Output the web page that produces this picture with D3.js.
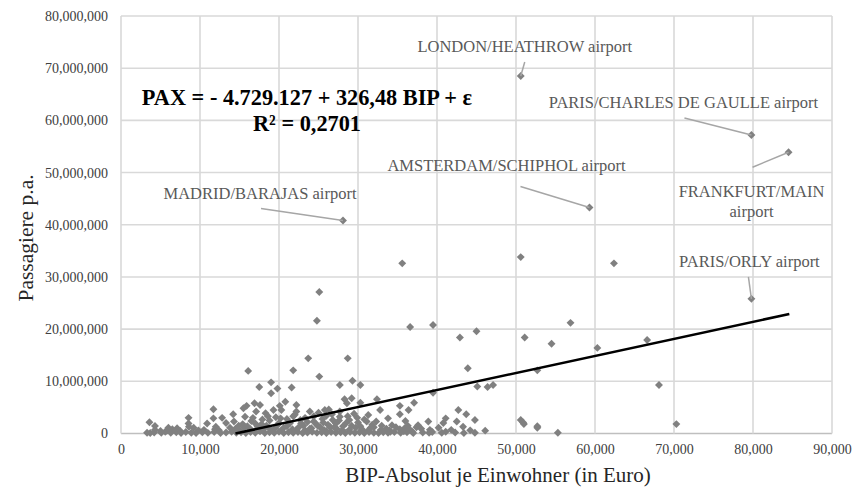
<!DOCTYPE html>
<html>
<head>
<meta charset="utf-8">
<script src="https://cdn.jsdelivr.net/npm/d3@7"></script>
<style>
  body { margin: 0; background: #fff; }
  text { font-family: "Liberation Serif", "Times New Roman", serif; }
</style>
</head>
<body>
<div id="chart"></div>
<script>
// BIP je Einwohner (Euro) vs. Passagiere p.a.
const xTicks = [0, 10000, 20000, 30000, 40000, 50000, 60000, 70000, 80000, 90000];
const yTicks = [0, 10000000, 20000000, 30000000, 40000000, 50000000, 60000000, 70000000, 80000000];

// named airports
const bigAirports = [
  [50600, 68500000],
  [79800, 57200000],
  [84500, 53900000],
  [59300, 43300000],
  [28100, 40800000],
  [79800, 25800000]
];

// scattered points above ~3M
const upperPoints = [
  [35600, 32600000], [50600, 33800000], [62400, 32600000], [25100, 27100000], [24800, 21600000],
  [36600, 20400000], [39500, 20800000], [42900, 18400000], [45000, 19600000], [56900, 21200000],
  [51100, 18400000], [54500, 17200000], [60300, 16400000], [66600, 17900000], [23700, 14400000],
  [28700, 14400000], [43900, 12500000], [52700, 12100000], [16100, 12000000], [21800, 12100000],
  [25100, 10900000], [29300, 10100000], [27700, 9300000], [30300, 9300000], [45100, 9000000],
  [46400, 8900000], [47100, 9300000], [68100, 9300000], [17500, 8900000], [19000, 9800000],
  [19800, 8600000], [19000, 7700000], [21600, 8800000], [39500, 7800000], [28300, 6550000],
  [28600, 5800000], [29200, 6750000], [16900, 5800000], [17600, 5450000], [17100, 4200000],
  [20100, 5300000], [20300, 4500000], [22200, 5450000], [22200, 4200000], [23900, 4200000],
  [25800, 4500000], [25000, 4000000], [27700, 3200000], [27700, 4200000], [15500, 4850000],
  [15700, 3200000], [30300, 5900000], [32400, 6550000], [32800, 4500000], [35300, 5300000],
  [35300, 3700000], [36400, 4500000], [37100, 5900000], [31300, 3550000], [11700, 4650000],
  [12800, 3000000], [8550, 3000000], [14200, 3700000], [15900, 5300000], [22000, 3600000],
  [18300, 3900000], [19300, 4500000], [20800, 6100000], [43700, 3700000], [42700, 4500000],
  [26300, 4600000], [29500, 3800000], [19600, 3100000], [23300, 3000000], [26000, 3400000]
];

// points between ~1.5M and 3M
const midPoints = [
  [70300, 1800000], [50600, 2600000], [50900, 2100000], [51000, 1800000], [52700, 1400000],
  [52700, 1100000], [44800, 2600000], [26800, 2600000], [33800, 2900000], [41100, 2900000],
  [40800, 2000000], [42500, 2300000], [38900, 2300000], [37600, 1600000], [31100, 2300000],
  [3600, 2150000], [4300, 1450000], [10900, 1900000], [8550, 1900000], [18800, 2500000],
  [21000, 2800000], [24400, 2300000], [27200, 1900000], [28900, 2600000], [30000, 2100000],
  [31800, 1700000], [34300, 1600000], [36000, 2400000], [16500, 2400000], [17800, 1800000],
  [13300, 2000000], [14900, 1500000], [12000, 1300000], [11700, 2900000], [22800, 1900000],
  [25600, 2100000], [20000, 2000000]
];

// points between ~0.5M and 1.5M
const lowPoints = [
  [4300, 700000], [5800, 500000], [6500, 800000], [7100, 1000000], [7500, 500000],
  [8600, 1300000], [9800, 600000], [11900, 800000], [14500, 900000], [15600, 1100000],
  [16400, 800000], [17300, 1300000], [18000, 700000], [18700, 1100000], [19500, 1000000],
  [20300, 600000], [21000, 1400000], [21700, 800000], [22500, 1200000], [23300, 600000],
  [24100, 1000000], [24900, 1500000], [25700, 700000], [26500, 1200000], [27300, 900000],
  [28100, 1400000], [28900, 700000], [29700, 1100000], [30500, 800000], [31300, 600000],
  [32000, 1200000], [32900, 700000], [33600, 900000], [35300, 800000], [35900, 1000000],
  [36600, 700000], [37400, 1200000], [39100, 700000], [46100, 550000]
];

// dense cluster of regional airports, 13k-33k Euro
const crowdPoints = [
  [13800, 1100000], [14300, 2300000], [15000, 600000], [15400, 1800000], [16000, 1400000],
  [16700, 3000000], [17000, 1900000], [17400, 600000], [17900, 2700000], [18400, 1500000],
  [18600, 3300000], [19100, 600000], [19800, 1600000], [20200, 2900000], [20600, 1100000],
  [21400, 2000000], [21800, 3300000], [22200, 700000], [22700, 2600000], [23100, 1500000],
  [23600, 2200000], [23900, 900000], [24400, 3300000], [24700, 1800000], [25200, 1200000],
  [25500, 2800000], [26000, 500000], [26200, 1700000], [26700, 3700000], [27000, 1200000],
  [27600, 2500000], [28000, 600000], [28500, 2000000], [28700, 3300000], [29200, 1500000],
  [29900, 3000000], [30300, 1400000], [30800, 2700000], [31600, 1100000], [32300, 2300000],
  [33000, 1500000], [34000, 600000], [34800, 1200000], [36300, 1500000], [38000, 900000],
  [40200, 1100000], [41800, 700000], [43300, 1300000], [44200, 600000], [9200, 1100000],
  [10500, 700000], [12400, 600000], [6000, 1100000], [5000, 500000]
];

// bottom row, almost zero
const floorPoints = [
  [3300, 150000], [3700, 80000], [4200, 200000], [5100, 120000], [5600, 350000], [6300, 150000],
  [7000, 250000], [7600, 100000], [8200, 300000], [8900, 150000], [9500, 80000], [10300, 250000],
  [11000, 120000], [11800, 300000], [12600, 100000], [13300, 200000], [14000, 350000], [14600, 120000],
  [15200, 250000], [15800, 80000], [16400, 300000], [17000, 150000], [17600, 400000], [18200, 100000],
  [18800, 250000], [19400, 150000], [20000, 350000], [20600, 100000], [21200, 250000], [21800, 150000],
  [22400, 300000], [23000, 80000], [23600, 200000], [24200, 350000], [24800, 120000], [25400, 250000],
  [26000, 100000], [26600, 300000], [27200, 150000], [27800, 250000], [28400, 80000], [29000, 300000],
  [29600, 150000], [30200, 250000], [30800, 100000], [31400, 300000], [32000, 150000], [32600, 80000],
  [33200, 250000], [33800, 120000], [34600, 300000], [35400, 150000], [36200, 250000], [37000, 100000],
  [38200, 200000], [39400, 300000], [40600, 150000], [42300, 200000], [44800, 150000], [55300, 150000],
  [34100, 350000], [35800, 400000], [36900, 300000], [39000, 150000], [41100, 350000], [43400, 100000]
];

const trendIntercept = -4729127;
const trendSlope = 326.48;
const trendEndX = 84600;

const callouts = [
  { lines: ["LONDON/HEATHROW airport"], x: 50600, y: 68500000, dx: 4, dy: -24, lx: 4, ly: -14 },
  { lines: ["PARIS/CHARLES DE GAULLE airport"], x: 79800, y: 57200000, dx: -68, dy: -27, lx: -67, ly: -17 },
  { lines: ["FRANKFURT/MAIN", "airport"], x: 84500, y: 53900000, dx: -37, dy: 45, lx: -36, ly: 15 },
  { lines: ["AMSTERDAM/SCHIPHOL airport"], x: 59300, y: 43300000, dx: -83, dy: -37, lx: -69, ly: -21 },
  { lines: ["MADRID/BARAJAS airport"], x: 28100, y: 40800000, dx: -83, dy: -22, lx: -82, ly: -12 },
  { lines: ["PARIS/ORLY airport"], x: 79800, y: 25800000, dx: -2, dy: -32, lx: -3, ly: -22 }
];

const width = 861, height = 499;
const plotLeft = 121, plotRight = 832, plotTop = 16, plotBottom = 433.5;

const svg = d3.select("#chart").append("svg")
  .attr("width", width)
  .attr("height", height);

const x = d3.scaleLinear().domain([0, 90000]).range([plotLeft, plotRight]);
const y = d3.scaleLinear().domain([0, 80000000]).range([plotBottom, plotTop]);
const fmt = d3.format(",");

// gridlines
svg.append("g").selectAll("line").data(yTicks).enter().append("line")
  .attr("x1", plotLeft).attr("x2", plotRight)
  .attr("y1", d => y(d)).attr("y2", d => y(d))
  .attr("stroke", d => d === 0 ? "#bfbfbf" : "#d9d9d9")
  .attr("stroke-width", 1.6);
svg.append("g").selectAll("line").data(xTicks).enter().append("line")
  .attr("y1", plotTop).attr("y2", plotBottom)
  .attr("x1", d => x(d)).attr("x2", d => x(d))
  .attr("stroke", "#d9d9d9")
  .attr("stroke-width", 1.6);

// axes (labels only)
const xAxis = svg.append("g")
  .attr("transform", `translate(0,${plotBottom})`)
  .call(d3.axisBottom(x).tickValues(xTicks).tickFormat(fmt).tickSize(0).tickPadding(11));
const yAxis = svg.append("g")
  .attr("transform", `translate(${plotLeft},0)`)
  .call(d3.axisLeft(y).tickValues(yTicks).tickFormat(fmt).tickSize(0).tickPadding(13));
[xAxis, yAxis].forEach(a => {
  a.select(".domain").remove();
  a.selectAll("text")
    .style("font-family", '"Liberation Serif", "Times New Roman", serif')
    .style("font-size", "14px")
    .attr("fill", "#404040");
});

// points
const diamond = d3.symbol().type(d3.symbolDiamond2).size(40);
const allPoints = [].concat(floorPoints, lowPoints, crowdPoints, midPoints, upperPoints, bigAirports);
svg.append("g").selectAll("path").data(allPoints).enter().append("path")
  .attr("d", diamond)
  .attr("transform", d => `translate(${x(d[0])},${y(d[1])})`)
  .attr("fill", "#808080");

// trend line
const x0 = -trendIntercept / trendSlope;
svg.append("line")
  .attr("x1", x(x0)).attr("y1", y(trendIntercept + trendSlope * x0))
  .attr("x2", x(trendEndX)).attr("y2", y(trendIntercept + trendSlope * trendEndX))
  .attr("stroke", "#000")
  .attr("stroke-width", 2.6);

// callouts
const co = svg.append("g").selectAll("g").data(callouts).enter().append("g");
co.append("line")
  .attr("x1", d => x(d.x) + d.lx).attr("y1", d => y(d.y) + d.ly)
  .attr("x2", d => x(d.x)).attr("y2", d => y(d.y))
  .attr("stroke", "#a6a6a6")
  .attr("stroke-width", 1.5);
co.each(function (d) {
  d.lines.forEach((t, i) => {
    d3.select(this).append("text")
      .attr("x", x(d.x) + d.dx)
      .attr("y", y(d.y) + d.dy + i * 19.5)
      .attr("text-anchor", "middle")
      .attr("font-size", "16.5px")
      .attr("fill", "#595959")
      .text(t);
  });
});

// regression equation
svg.append("text")
  .attr("x", 307).attr("y", 105)
  .attr("text-anchor", "middle")
  .attr("font-size", "22.3px")
  .attr("font-weight", "bold")
  .text("PAX = - 4.729.127 + 326,48 BIP + ε");
svg.append("text")
  .attr("x", 307).attr("y", 131)
  .attr("text-anchor", "middle")
  .attr("font-size", "22.3px")
  .attr("font-weight", "bold")
  .text("R² = 0,2701");

// axis titles
svg.append("text")
  .attr("x", 498).attr("y", 482)
  .attr("text-anchor", "middle")
  .attr("font-size", "21px")
  .attr("fill", "#262626")
  .text("BIP-Absolut je Einwohner (in Euro)");
svg.append("text")
  .attr("transform", "translate(33,238) rotate(-90)")
  .attr("text-anchor", "middle")
  .attr("font-size", "21.5px")
  .attr("fill", "#262626")
  .text("Passagiere p.a.");
</script>
</body>
</html>
